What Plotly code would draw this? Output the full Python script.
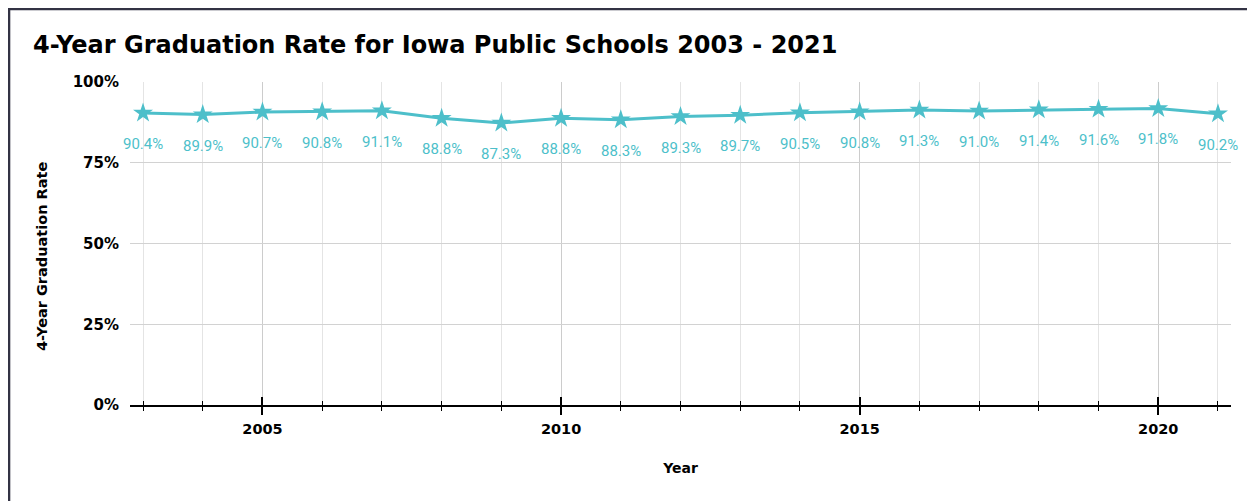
import plotly.graph_objects as go

years = list(range(2003, 2022))
rates = [90.4, 89.9, 90.7, 90.8, 91.1, 88.8, 87.3, 88.8, 88.3, 89.3, 89.7,
         90.5, 90.8, 91.3, 91.0, 91.4, 91.6, 91.8, 90.2]
y_ticks = [0, 25, 50, 75, 100]
y_labels = [f"{v}%" for v in y_ticks]
x_ticks = [2005, 2010, 2015, 2020]

teal = "#4dbfca"
bold = dict(family="DejaVu Sans", size=14, color="black", weight="bold")

W, H = 1247, 493
L, R, T, B = 122, 24, 74, 96
xr = [2002.782, 2021.218]

fig = go.Figure()
fig.add_trace(go.Scatter(
    x=years, y=rates, mode="lines+markers",
    line=dict(color=teal, width=3),
    marker=dict(symbol="star", size=15, color=teal),
    hoverinfo="x+y", showlegend=False,
))
# invisible companion trace so the overlay axis (inner tick halves) is drawn
fig.add_trace(go.Scatter(
    x=years, y=rates, xaxis="x2", mode="markers",
    marker=dict(opacity=0), hoverinfo="skip", showlegend=False,
))

for yr, v in zip(years, rates):
    fig.add_annotation(x=yr, y=v, text=f"{v:.1f}%", showarrow=False, yshift=-31,
                       font=dict(family="Roboto", size=15, color=teal))

fig.update_layout(
    width=W, height=H,
    paper_bgcolor="white", plot_bgcolor="white",
    margin=dict(l=L, r=R, t=T, b=B),
    title=dict(text="4-Year Graduation Rate for Iowa Public Schools 2003 - 2021",
               xref="container", x=25 / W, xanchor="left",
               yref="container", y=1 - 37 / H, yanchor="middle",
               font=dict(family="DejaVu Sans", size=24, color="black", weight="bold")),
    xaxis=dict(
        range=xr, tickmode="array", tickvals=x_ticks, ticktext=[str(t) for t in x_ticks],
        ticks="outside", ticklen=8, tickwidth=1.5, tickcolor="black",
        showline=True, linecolor="black", linewidth=1.5,
        showgrid=True, gridcolor="#cccccc", gridwidth=1,
        minor=dict(dtick=1, tick0=2003, ticks="outside", ticklen=4, tickwidth=1.2,
                   tickcolor="black", showgrid=True, gridcolor="#e4e4e4", gridwidth=1),
        tickfont=dict(family="DejaVu Sans", size=14.5, color="black", weight="bold"),
        ticklabelstandoff=2,
        title=dict(text="Year", standoff=27, font=bold),
        zeroline=False,
    ),
    xaxis2=dict(
        range=xr, overlaying="x", anchor="y", side="bottom",
        tickmode="array", tickvals=x_ticks, showticklabels=False,
        ticks="inside", ticklen=8, tickwidth=1.5, tickcolor="black",
        minor=dict(dtick=1, tick0=2003, ticks="inside", ticklen=4, tickwidth=1.2,
                   tickcolor="black", showgrid=False),
        showgrid=False, showline=False, zeroline=False,
    ),
    yaxis=dict(
        range=[0, 100], tickmode="array", tickvals=y_ticks, ticktext=y_labels,
        showgrid=True, gridcolor="#d2d2d2", gridwidth=1, zeroline=False,
        showline=False, ticks="", ticklabelstandoff=10,
        tickfont=dict(family="DejaVu Sans", size=15, color="black", weight="bold"),
    ),
)

# rotated y-axis title
fig.add_annotation(text="4-Year Graduation Rate", textangle=-90, showarrow=False,
                   xref="paper", yref="paper", x=(34 - L) / (W - L - R),
                   y=1 - (249 - T) / (H - T - B), xanchor="center", yanchor="middle",
                   font=dict(family="DejaVu Sans", size=14.5, color="black", weight="bold"))

# page frame
pw, ph = W - L - R, H - T - B
fig.add_shape(type="rect", xref="paper", yref="paper",
              x0=(0.8 - L) / pw, x1=1.5, y0=-1, y1=1 + (T - 0.8) / ph,
              line=dict(color="#333344", width=3), fillcolor="rgba(0,0,0,0)", layer="above")

fig.write_html("out.html")
